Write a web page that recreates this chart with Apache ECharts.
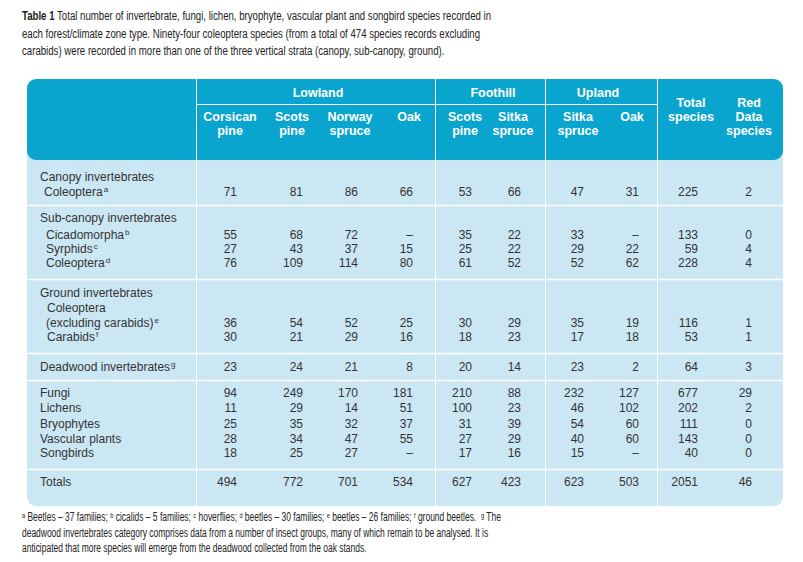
<!DOCTYPE html>
<html><head><meta charset="utf-8">
<script src="https://cdn.jsdelivr.net/npm/echarts@6/dist/echarts.min.js"></script>
<style>html,body{margin:0;padding:0;background:#fff}#c{width:803px;height:562px}</style>
</head><body><div id="c"></div>
<script>
// ---------------- data ----------------
const zones = ['Lowland', 'Foothill', 'Upland'];
const columnHeads = ['Corsican\npine', 'Scots\npine', 'Norway\nspruce', 'Oak', 'Scots\npine', 'Sitka\nspruce', 'Sitka\nspruce', 'Oak', 'Total\nspecies', 'Red\nData\nspecies'];
const groupLabels = ['Canopy invertebrates', 'Sub-canopy invertebrates', 'Ground invertebrates', 'Coleoptera'];
const rowLabels = ['Coleoptera', 'Cicadomorpha', 'Syrphids', 'Coleoptera', '(excluding carabids)', 'Carabids', 'Deadwood invertebrates', 'Fungi', 'Lichens', 'Bryophytes', 'Vascular plants', 'Songbirds', 'Totals'];
const rowNotes = ['a', 'b', 'c', 'd', 'e', 'f', 'g', '', '', '', '', '', ''];
const lowlandCorsicanPine = [71, 55, 27, 76, 36, 30, 23, 94, 11, 25, 28, 18, 494];
const lowlandScotsPine    = [81, 68, 43, 109, 54, 21, 24, 249, 29, 35, 34, 25, 772];
const lowlandNorwaySpruce = [86, 72, 37, 114, 52, 29, 21, 170, 14, 32, 47, 27, 701];
const lowlandOak          = [66, null, 15, 80, 25, 16, 8, 181, 51, 37, 55, null, 534];
const foothillScotsPine   = [53, 35, 25, 61, 30, 18, 20, 210, 100, 31, 27, 17, 627];
const foothillSitkaSpruce = [66, 22, 22, 52, 29, 23, 14, 88, 23, 39, 29, 16, 423];
const uplandSitkaSpruce   = [47, 33, 29, 52, 35, 17, 23, 232, 46, 54, 40, 15, 623];
const uplandOak           = [31, null, 22, 62, 19, 18, 2, 127, 102, 60, 60, null, 503];
const totalSpecies        = [225, 133, 59, 228, 116, 53, 64, 677, 202, 111, 143, 40, 2051];
const redDataSpecies      = [2, 0, 4, 4, 1, 1, 3, 29, 2, 0, 0, 0, 46];

const titleLines = [
  '{b|Table 1} Total number of invertebrate, fungi, lichen, bryophyte, vascular plant and songbird species recorded in',
  'each forest/climate zone type. Ninety-four coleoptera species (from a total of 474 species records excluding',
  'carabids) were recorded in more than one of the three vertical strata (canopy, sub-canopy, ground).'
];
const footLines = [
  '{s|a} Beetles – 37 families; {s|b} cicalids – 5 families; {s|c} hoverflies; {s|d} beetles – 30 families; {s|e} beetles – 26 families; {s|f} ground beetles.  {s|g} The',
  'deadwood invertebrates category comprises data from a number of insect groups, many of which remain to be analysed. It is',
  'anticipated that more species will emerge from the deadwood collected from the oak stands.'
];

// ---------------- layout ----------------
const W = 803, H = 562;
const T = { left: 27, right: 783, top: 79, headBottom: 160, bottom: 506 };
const colRight = [237, 303, 358, 413, 472, 521, 584, 639, 698, 752];
const colHeadX = [230, 292, 350, 409, 465, 513, 578, 632, 691, 749];
const zoneX = [318, 493, 598];
const rowY = [192, 235, 249, 263, 323, 337, 367, 393, 408, 424, 439, 453, 482];
const rowX = [44, 46, 46, 46, 46, 47, 40, 40, 40, 40, 40, 40, 40];
const groupY = [177, 218, 293, 308];
const groupX = [40, 40, 40, 47];
const vLines = [196, 435, 545, 657];
const hLines = [205, 279, 353, 380, 469];

const HEAD = '#0aa5cf', BODY = '#cce7f4', TXT = '#333';
const FAM = '"Liberation Sans", Arial, Helvetica, sans-serif';
const bodyFont = '12px ' + FAM;

const mctx = document.createElement('canvas').getContext('2d');
mctx.font = bodyFont;

const valueColumns = [lowlandCorsicanPine, lowlandScotsPine, lowlandNorwaySpruce, lowlandOak,
  foothillScotsPine, foothillSitkaSpruce, uplandSitkaSpruce, uplandOak, totalSpecies, redDataSpecies];
const cellData = [], cellText = [];
valueColumns.forEach((col, ci) => col.forEach((v, ri) => {
  cellData.push([colRight[ci], rowY[ri]]);
  cellText.push(v == null ? '–' : String(v));
}));
const labelData = rowLabels.map((l, i) => [rowX[i], rowY[i]]);

// ---------------- graphics (table frame, title, notes) ----------------
const g = [];
g.push({ type: 'rect', z: 0, shape: { x: T.left, y: T.top + 20, width: T.right - T.left, height: T.bottom - T.top - 20, r: [0, 0, 9, 9] }, style: { fill: BODY } });
g.push({ type: 'rect', z: 1, shape: { x: T.left, y: T.top, width: T.right - T.left, height: T.headBottom - T.top, r: 9 }, style: { fill: HEAD } });
vLines.forEach(x => g.push({ type: 'line', z: 2, shape: { x1: x + 0.5, y1: T.top, x2: x + 0.5, y2: T.bottom }, style: { stroke: '#fff', lineWidth: 1 } }));
g.push({ type: 'line', z: 2, shape: { x1: vLines[0], y1: 104.5, x2: vLines[3], y2: 104.5 }, style: { stroke: '#fff', lineWidth: 1 } });
hLines.forEach(y => g.push({ type: 'line', z: 2, shape: { x1: T.left, y1: y + 0.5, x2: T.right, y2: y + 0.5 }, style: { stroke: '#fff', lineWidth: 1.5 } }));
zones.forEach((z, i) => g.push({ type: 'text', z: 3, x: zoneX[i], y: 93, style: { text: z, align: 'center', verticalAlign: 'middle', font: 'bold 12.5px ' + FAM, fill: '#fff' } }));
columnHeads.forEach((h, i) => g.push({ type: 'text', z: 3, x: colHeadX[i], y: i >= 8 ? 96 : 110, style: { text: h, align: 'center', verticalAlign: 'top', lineHeight: 14, font: 'bold 12.5px ' + FAM, fill: '#fff' } }));
groupLabels.forEach((l, i) => g.push({ type: 'text', z: 3, x: groupX[i], y: groupY[i], style: { text: l, align: 'left', verticalAlign: 'middle', font: bodyFont, fill: TXT } }));
titleLines.forEach((l, i) => g.push({ type: 'text', z: 3, x: 22, y: 15 + i * 17.5, scaleX: 0.715, style: { text: l, align: 'left', verticalAlign: 'middle', fill: '#222',
  fontSize: 13.5, fontFamily: FAM, rich: { b: { fontWeight: 'bold', fontSize: 13.5, fontFamily: FAM, fill: '#222' } } } }));
footLines.forEach((l, i) => g.push({ type: 'text', z: 3, x: 22, y: 517 + i * 15.5, scaleX: 0.705, style: { text: l, align: 'left', verticalAlign: 'middle', fill: '#222', fontSize: 12, fontFamily: FAM,
  rich: { s: { fontSize: 8, fontFamily: FAM, fill: '#222', verticalAlign: 'top', lineHeight: 9 } } } }));

const option = {
  animation: false,
  backgroundColor: '#fff',
  grid: { left: 0, right: 0, top: 0, bottom: 0 },
  xAxis: { type: 'value', min: 0, max: W, show: false },
  yAxis: { type: 'value', min: 0, max: H, inverse: true, show: false },
  graphic: g,
  series: [
    {
      type: 'custom', z: 5, data: cellData,
      renderItem: (params, api) => {
        const p = api.coord([api.value(0), api.value(1)]);
        return { type: 'text', x: p[0], y: p[1], style: { text: cellText[params.dataIndex], align: 'right', verticalAlign: 'middle', font: bodyFont, fill: TXT } };
      }
    },
    {
      type: 'custom', z: 5, data: labelData,
      renderItem: (params, api) => {
        const p = api.coord([api.value(0), api.value(1)]);
        const i = params.dataIndex;
        const children = [{ type: 'text', x: p[0], y: p[1], style: { text: rowLabels[i], align: 'left', verticalAlign: 'middle', font: bodyFont, fill: TXT } }];
        if (rowNotes[i]) {
          const w = mctx.measureText(rowLabels[i]).width;
          children.push({ type: 'text', x: p[0] + w + 1, y: p[1] - 3, style: { text: rowNotes[i], align: 'left', verticalAlign: 'middle', font: '8px ' + FAM, fill: TXT } });
        }
        return { type: 'group', children };
      }
    }
  ]
};
const chart = echarts.init(document.getElementById('c'), null, { renderer: 'svg' });
chart.setOption(option);
</script></body></html>
